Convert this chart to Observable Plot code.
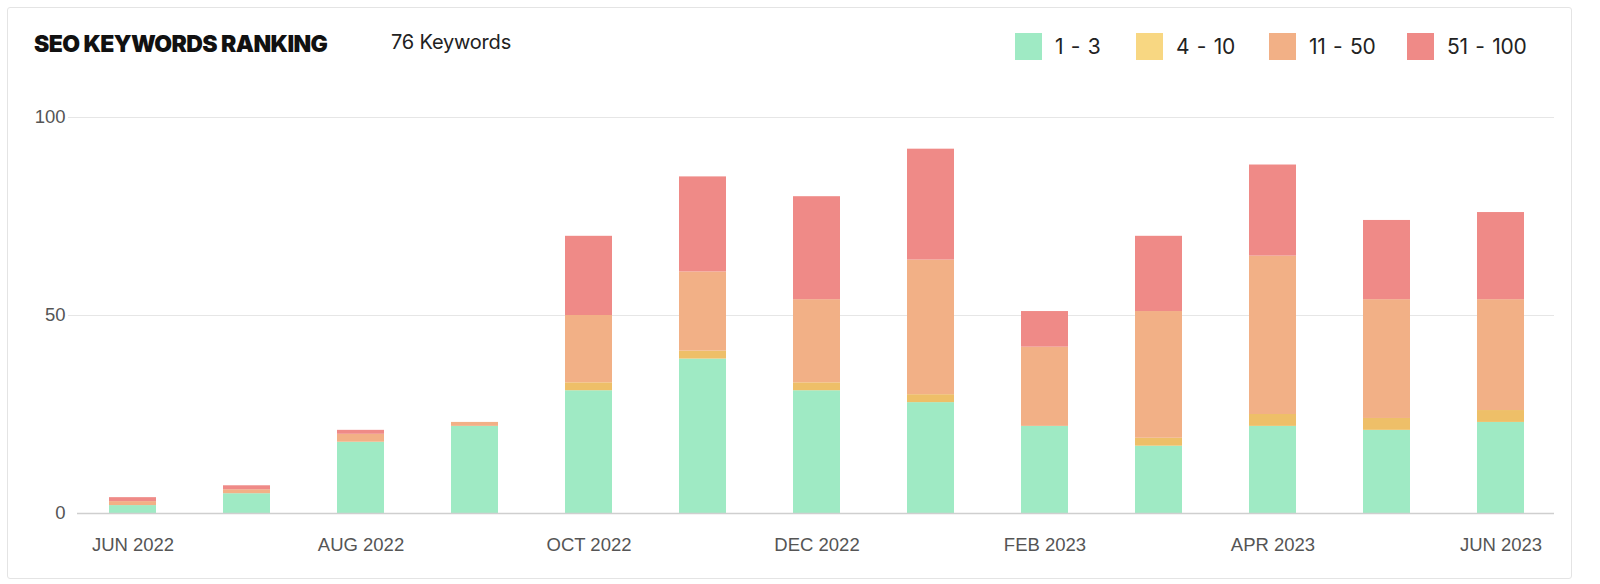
<!DOCTYPE html>
<html>
<head>
<meta charset="utf-8">
<script src="https://cdn.jsdelivr.net/npm/d3@7"></script>
<script src="https://cdn.jsdelivr.net/npm/@observablehq/plot@0.6"></script>
<style>
  html, body { margin: 0; padding: 0; background: #ffffff; }
  body { width: 1600px; height: 584px; position: relative; overflow: hidden; }
  #card { position: absolute; left: 7px; top: 7px; width: 1565px; height: 572px; box-sizing: border-box;
          border: 1px solid #e4e4e4; border-radius: 3px; background: #fff; }
  #title { position: absolute; left: 26px; top: 22px; font-family: Inter, sans-serif; font-weight: 900;
           font-size: 23px; letter-spacing: -0.6px; color: #111; white-space: nowrap; }
  #sub { position: absolute; left: 383px; top: 22px; font-family: Inter, sans-serif; font-weight: 400;
         font-size: 20px; color: #222; white-space: nowrap; letter-spacing: -0.2px; }
  .leg { position: absolute; top: 25px; display: flex; align-items: center; font-family: Inter, sans-serif;
         font-size: 21px; color: #222; white-space: nowrap; letter-spacing: -0.3px; word-spacing: 2px; }
  .sw { width: 27px; height: 27px; display: inline-block; margin-right: 13px; }
  #chart { position: absolute; left: 0px; top: 73px; }
</style>
</head>
<body>
<div id="card">
  <div id="title">SEO KEYWORDS RANKING</div>
  <div id="sub">76 Keywords</div>
  <div id="legend"></div>
  <div id="chart"></div>
</div>
<script>
const months = ["JUN 2022","JUL 2022","AUG 2022","SEP 2022","OCT 2022","NOV 2022","DEC 2022","JAN 2023","FEB 2023","MAR 2023","APR 2023","MAY 2023","JUN 2023"];
const xTickLabels = ["JUN 2022","AUG 2022","OCT 2022","DEC 2022","FEB 2023","APR 2023","JUN 2023"];
const ranges = ["1 - 3","4 - 10","11 - 50","51 - 100"];
const rank1to3 = [2,5,18,22,31,39,31,28,22,17,22,21,23];
const rank4to10 = [0,0,0,0,2,2,2,2,0,2,3,3,3];
const rank11to50 = [1,1,2,1,17,20,21,34,20,32,40,30,28];
const rank51to100 = [1,1,1,0,20,24,26,28,9,19,23,20,22];
const yTicks = [0,50,100];
const barColors = ["#9feac4","#eebf68","#f2b086","#ef8a87"];
const legendColors = ["#9feac4","#f8d782","#f2b086","#ef8a87"];

const series = [rank1to3, rank4to10, rank11to50, rank51to100];
const rows = [];
months.forEach((m, i) => {
  ranges.forEach((r, j) => rows.push({month: m, range: r, value: series[j][i]}));
});

// legend
const legendX = [1007, 1128, 1261, 1399];
const legend = document.getElementById("legend");
ranges.forEach((r, j) => {
  const d = document.createElement("div");
  d.className = "leg";
  d.style.left = legendX[j] + "px";
  d.innerHTML = `<span class="sw" style="background:${legendColors[j]}"></span><span>${r}</span>`;
  legend.appendChild(d);
});

const chart = Plot.plot({
  width: 1563,
  height: 496,
  marginTop: 36,
  marginBottom: 64,
  marginLeft: 60,
  marginRight: 17,
  style: {fontFamily: "'Liberation Sans', Arial, sans-serif", fontSize: "18.5px", color: "#555", background: "transparent"},
  x: {domain: months, paddingInner: 0.587, paddingOuter: 0, insetLeft: 40, insetRight: 28, label: null,
      ticks: xTickLabels, tickSize: 0, tickPadding: 24},
  y: {domain: [0, 100], ticks: yTicks, label: null, tickSize: 0, tickPadding: 3},
  color: {domain: ranges, range: barColors},
  marks: [
    Plot.ruleY([50, 100], {stroke: "#e6e6e6", strokeWidth: 1}),
    Plot.barY(rows, {x: "month", y: "value", fill: "range"}),
    Plot.ruleY([0], {stroke: "#cfcfcf", strokeWidth: 1.5, insetLeft: 9})
  ]
});
document.getElementById("chart").appendChild(chart);
</script>
</body>
</html>
